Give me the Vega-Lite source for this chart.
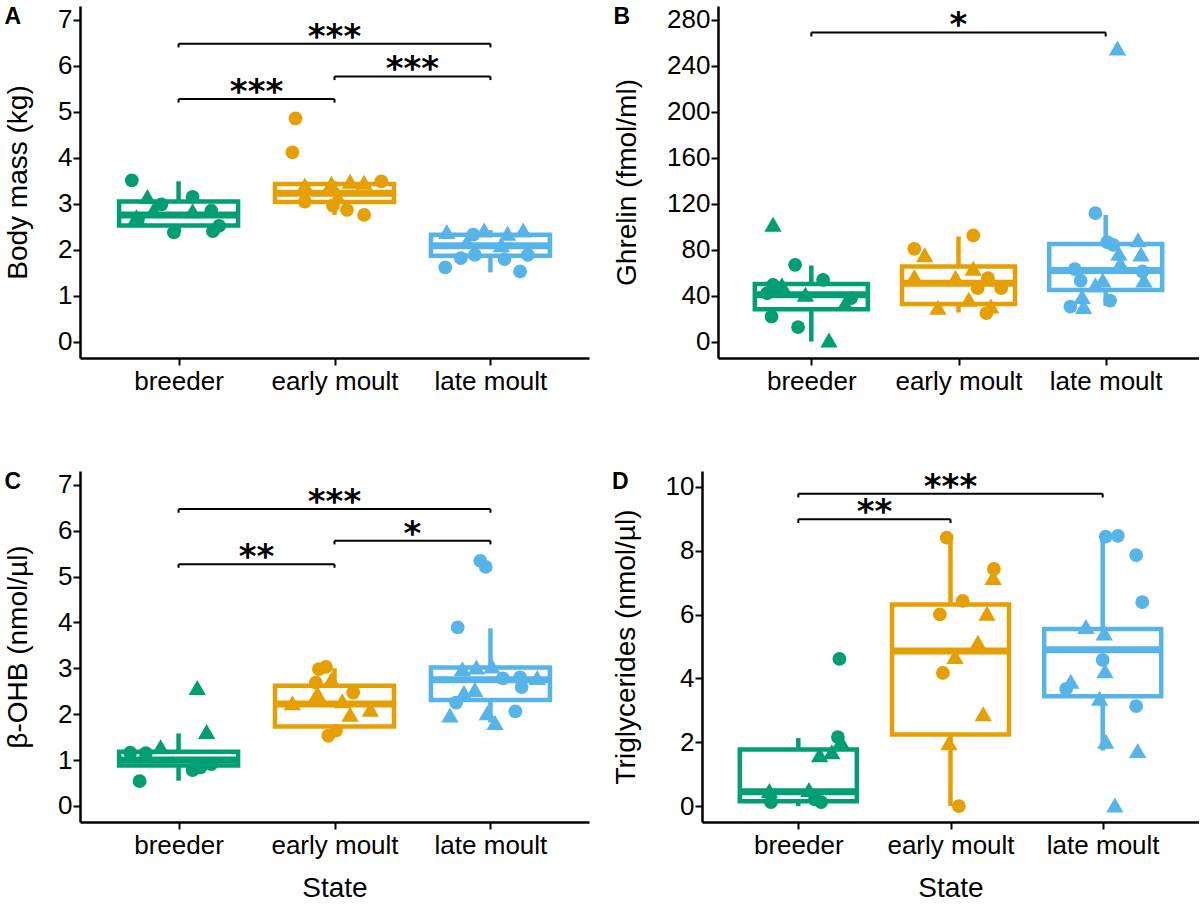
{
  "$schema": "https://vega.github.io/schema/vega-lite/v6.json",
  "background": "white",
  "padding": {"left": 4, "top": 6, "right": 0, "bottom": 0},
  "datasets": {
    "massPts": [
      {"state": "breeder", "sex": "F", "x": 0.70, "value": 3.51},
      {"state": "breeder", "sex": "M", "x": 0.80, "value": 3.16},
      {"state": "breeder", "sex": "F", "x": 0.89, "value": 2.99},
      {"state": "breeder", "sex": "F", "x": 1.09, "value": 3.15},
      {"state": "breeder", "sex": "M", "x": 0.84, "value": 2.87},
      {"state": "breeder", "sex": "F", "x": 0.74, "value": 2.67},
      {"state": "breeder", "sex": "M", "x": 0.73, "value": 2.72},
      {"state": "breeder", "sex": "F", "x": 0.97, "value": 2.38},
      {"state": "breeder", "sex": "M", "x": 1.09, "value": 2.85},
      {"state": "breeder", "sex": "F", "x": 1.21, "value": 2.85},
      {"state": "breeder", "sex": "F", "x": 1.22, "value": 2.41},
      {"state": "breeder", "sex": "F", "x": 1.26, "value": 2.52},
      {"state": "early moult", "sex": "F", "x": 1.75, "value": 4.86},
      {"state": "early moult", "sex": "F", "x": 1.73, "value": 4.12},
      {"state": "early moult", "sex": "M", "x": 1.81, "value": 3.41},
      {"state": "early moult", "sex": "F", "x": 1.81, "value": 3.05},
      {"state": "early moult", "sex": "M", "x": 1.98, "value": 3.45},
      {"state": "early moult", "sex": "M", "x": 2.10, "value": 3.49},
      {"state": "early moult", "sex": "M", "x": 2.19, "value": 3.47},
      {"state": "early moult", "sex": "F", "x": 2.30, "value": 3.49},
      {"state": "early moult", "sex": "F", "x": 1.99, "value": 2.96},
      {"state": "early moult", "sex": "F", "x": 2.08, "value": 2.87},
      {"state": "early moult", "sex": "F", "x": 2.19, "value": 2.76},
      {"state": "early moult", "sex": "M", "x": 2.02, "value": 3.16},
      {"state": "late moult", "sex": "M", "x": 2.72, "value": 2.40},
      {"state": "late moult", "sex": "F", "x": 2.89, "value": 2.33},
      {"state": "late moult", "sex": "M", "x": 2.96, "value": 2.43},
      {"state": "late moult", "sex": "M", "x": 3.11, "value": 2.36},
      {"state": "late moult", "sex": "M", "x": 3.21, "value": 2.43},
      {"state": "late moult", "sex": "M", "x": 2.85, "value": 2.18},
      {"state": "late moult", "sex": "M", "x": 3.07, "value": 2.11},
      {"state": "late moult", "sex": "F", "x": 2.71, "value": 1.62},
      {"state": "late moult", "sex": "F", "x": 2.81, "value": 1.82},
      {"state": "late moult", "sex": "F", "x": 2.90, "value": 1.89},
      {"state": "late moult", "sex": "F", "x": 3.09, "value": 1.80},
      {"state": "late moult", "sex": "F", "x": 3.19, "value": 1.53},
      {"state": "late moult", "sex": "F", "x": 3.24, "value": 1.89}
    ],
    "massBox": [
      {"state": "breeder", "grp": 1, "lo": 2.38, "q1": 2.53, "med": 2.76, "q3": 3.05, "hi": 3.49},
      {"state": "early moult", "grp": 2, "lo": 2.76, "q1": 3.04, "med": 3.23, "q3": 3.43, "hi": 3.49},
      {"state": "late moult", "grp": 3, "lo": 1.51, "q1": 1.87, "med": 2.09, "q3": 2.33, "hi": 2.43}
    ],
    "massSig": [
      {"x1": 1, "x2": 3, "xmid": 2, "y": 6.48, "ytip": 6.40, "label": "***"},
      {"x1": 1, "x2": 2, "xmid": 1.5, "y": 5.28, "ytip": 5.20, "label": "***"},
      {"x1": 2, "x2": 3, "xmid": 2.5, "y": 5.77, "ytip": 5.69, "label": "***"}
    ],
    "ghrPts": [
      {"state": "breeder", "sex": "M", "x": 0.74, "value": 102.3},
      {"state": "breeder", "sex": "F", "x": 0.89, "value": 67},
      {"state": "breeder", "sex": "F", "x": 1.08, "value": 54},
      {"state": "breeder", "sex": "F", "x": 0.74, "value": 49.6},
      {"state": "breeder", "sex": "M", "x": 0.80, "value": 49.6},
      {"state": "breeder", "sex": "F", "x": 0.70, "value": 42.3},
      {"state": "breeder", "sex": "M", "x": 0.96, "value": 41.4},
      {"state": "breeder", "sex": "M", "x": 1.23, "value": 33.6},
      {"state": "breeder", "sex": "F", "x": 1.27, "value": 38},
      {"state": "breeder", "sex": "F", "x": 0.73, "value": 22},
      {"state": "breeder", "sex": "F", "x": 0.91, "value": 12.8},
      {"state": "breeder", "sex": "M", "x": 1.12, "value": 1.7},
      {"state": "early moult", "sex": "F", "x": 1.70, "value": 80.9},
      {"state": "early moult", "sex": "M", "x": 1.77, "value": 75.7},
      {"state": "early moult", "sex": "F", "x": 2.10, "value": 92.5},
      {"state": "early moult", "sex": "M", "x": 2.10, "value": 64},
      {"state": "early moult", "sex": "M", "x": 1.70, "value": 56.8},
      {"state": "early moult", "sex": "M", "x": 1.98, "value": 56.2},
      {"state": "early moult", "sex": "F", "x": 2.20, "value": 55.4},
      {"state": "early moult", "sex": "F", "x": 2.13, "value": 46.7},
      {"state": "early moult", "sex": "F", "x": 2.29, "value": 46.7},
      {"state": "early moult", "sex": "M", "x": 2.07, "value": 37.1},
      {"state": "early moult", "sex": "M", "x": 1.86, "value": 30.1},
      {"state": "early moult", "sex": "M", "x": 2.22, "value": 31.3},
      {"state": "early moult", "sex": "F", "x": 2.19, "value": 25},
      {"state": "late moult", "sex": "M", "x": 3.08, "value": 255.4},
      {"state": "late moult", "sex": "F", "x": 2.93, "value": 111.9},
      {"state": "late moult", "sex": "F", "x": 3.01, "value": 86.7},
      {"state": "late moult", "sex": "F", "x": 3.05, "value": 84.3},
      {"state": "late moult", "sex": "M", "x": 3.22, "value": 88.7},
      {"state": "late moult", "sex": "M", "x": 3.09, "value": 77.1},
      {"state": "late moult", "sex": "M", "x": 3.24, "value": 76.5},
      {"state": "late moult", "sex": "M", "x": 3.10, "value": 68.4},
      {"state": "late moult", "sex": "F", "x": 2.79, "value": 63.2},
      {"state": "late moult", "sex": "F", "x": 3.25, "value": 61.2},
      {"state": "late moult", "sex": "F", "x": 2.83, "value": 53.3},
      {"state": "late moult", "sex": "M", "x": 2.98, "value": 53.9},
      {"state": "late moult", "sex": "M", "x": 2.93, "value": 49.6},
      {"state": "late moult", "sex": "M", "x": 3.26, "value": 53.9},
      {"state": "late moult", "sex": "M", "x": 2.84, "value": 39.4},
      {"state": "late moult", "sex": "F", "x": 2.76, "value": 30.7},
      {"state": "late moult", "sex": "M", "x": 2.85, "value": 30.7},
      {"state": "late moult", "sex": "F", "x": 3.03, "value": 35.9}
    ],
    "ghrBox": [
      {"state": "breeder", "grp": 1, "lo": 0.3, "q1": 28.4, "med": 41, "q3": 50.4, "hi": 66.4},
      {"state": "early moult", "grp": 2, "lo": 25.5, "q1": 33, "med": 51, "q3": 65.5, "hi": 91.6},
      {"state": "late moult", "grp": 3, "lo": 31.3, "q1": 45.2, "med": 62, "q3": 85.2, "hi": 110.4}
    ],
    "ghrSig": [
      {"x1": 1, "x2": 3, "xmid": 2, "y": 269, "ytip": 265.5, "label": "*"}
    ],
    "ohbPts": [
      {"state": "breeder", "sex": "M", "x": 1.12, "value": 2.58},
      {"state": "breeder", "sex": "M", "x": 1.18, "value": 1.62},
      {"state": "breeder", "sex": "M", "x": 0.885, "value": 1.29},
      {"state": "breeder", "sex": "F", "x": 0.69, "value": 1.16},
      {"state": "breeder", "sex": "F", "x": 0.79, "value": 1.15},
      {"state": "breeder", "sex": "F", "x": 1.09, "value": 0.78},
      {"state": "breeder", "sex": "F", "x": 1.14, "value": 0.84},
      {"state": "breeder", "sex": "F", "x": 1.21, "value": 0.91},
      {"state": "breeder", "sex": "F", "x": 0.75, "value": 0.54},
      {"state": "early moult", "sex": "F", "x": 1.90, "value": 2.98},
      {"state": "early moult", "sex": "F", "x": 1.945, "value": 3.03},
      {"state": "early moult", "sex": "M", "x": 1.98, "value": 2.76},
      {"state": "early moult", "sex": "F", "x": 1.88, "value": 2.69},
      {"state": "early moult", "sex": "M", "x": 1.89, "value": 2.45},
      {"state": "early moult", "sex": "F", "x": 2.12, "value": 2.47},
      {"state": "early moult", "sex": "M", "x": 1.73, "value": 2.25},
      {"state": "early moult", "sex": "M", "x": 2.05, "value": 2.29},
      {"state": "early moult", "sex": "M", "x": 2.10, "value": 2.00},
      {"state": "early moult", "sex": "M", "x": 2.23, "value": 2.11},
      {"state": "early moult", "sex": "F", "x": 1.96, "value": 1.53},
      {"state": "early moult", "sex": "F", "x": 2.01, "value": 1.64},
      {"state": "late moult", "sex": "F", "x": 2.935, "value": 5.34},
      {"state": "late moult", "sex": "F", "x": 2.97, "value": 5.21},
      {"state": "late moult", "sex": "F", "x": 2.79, "value": 3.89},
      {"state": "late moult", "sex": "M", "x": 2.82, "value": 2.99},
      {"state": "late moult", "sex": "M", "x": 2.91, "value": 3.03},
      {"state": "late moult", "sex": "M", "x": 3.01, "value": 3.05},
      {"state": "late moult", "sex": "F", "x": 3.08, "value": 2.78},
      {"state": "late moult", "sex": "F", "x": 3.19, "value": 2.80},
      {"state": "late moult", "sex": "M", "x": 3.30, "value": 2.80},
      {"state": "late moult", "sex": "F", "x": 3.20, "value": 2.59},
      {"state": "late moult", "sex": "M", "x": 2.83, "value": 2.47},
      {"state": "late moult", "sex": "M", "x": 2.90, "value": 2.54},
      {"state": "late moult", "sex": "F", "x": 2.78, "value": 2.25},
      {"state": "late moult", "sex": "M", "x": 2.74, "value": 1.98},
      {"state": "late moult", "sex": "M", "x": 2.98, "value": 2.03},
      {"state": "late moult", "sex": "M", "x": 3.03, "value": 1.82},
      {"state": "late moult", "sex": "F", "x": 3.16, "value": 2.06}
    ],
    "ohbBox": [
      {"state": "breeder", "grp": 1, "lo": 0.55, "q1": 0.88, "med": 1.0, "q3": 1.18, "hi": 1.58},
      {"state": "early moult", "grp": 2, "lo": 1.55, "q1": 1.73, "med": 2.22, "q3": 2.62, "hi": 3.0},
      {"state": "late moult", "grp": 3, "lo": 1.82, "q1": 2.31, "med": 2.75, "q3": 3.02, "hi": 3.87}
    ],
    "ohbSig": [
      {"x1": 1, "x2": 3, "xmid": 2, "y": 6.47, "ytip": 6.39, "label": "***"},
      {"x1": 1, "x2": 2, "xmid": 1.5, "y": 5.27, "ytip": 5.19, "label": "**"},
      {"x1": 2, "x2": 3, "xmid": 2.5, "y": 5.78, "ytip": 5.70, "label": "*"}
    ],
    "tgPts": [
      {"state": "breeder", "sex": "F", "x": 1.27, "value": 4.61},
      {"state": "breeder", "sex": "F", "x": 1.26, "value": 2.16},
      {"state": "breeder", "sex": "M", "x": 1.28, "value": 2.03},
      {"state": "breeder", "sex": "M", "x": 1.22, "value": 1.70},
      {"state": "breeder", "sex": "M", "x": 1.14, "value": 1.61},
      {"state": "breeder", "sex": "M", "x": 0.81, "value": 0.49},
      {"state": "breeder", "sex": "M", "x": 1.07, "value": 0.52},
      {"state": "breeder", "sex": "F", "x": 0.82, "value": 0.12},
      {"state": "breeder", "sex": "F", "x": 1.15, "value": 0.12},
      {"state": "breeder", "sex": "F", "x": 1.11, "value": 0.21},
      {"state": "early moult", "sex": "F", "x": 1.975, "value": 8.41},
      {"state": "early moult", "sex": "F", "x": 2.285, "value": 7.43},
      {"state": "early moult", "sex": "M", "x": 2.28, "value": 7.16},
      {"state": "early moult", "sex": "F", "x": 2.08, "value": 6.43},
      {"state": "early moult", "sex": "F", "x": 1.93, "value": 6.01},
      {"state": "early moult", "sex": "M", "x": 2.24, "value": 6.04},
      {"state": "early moult", "sex": "M", "x": 2.18, "value": 5.13},
      {"state": "early moult", "sex": "M", "x": 2.03, "value": 4.69},
      {"state": "early moult", "sex": "F", "x": 1.95, "value": 4.17},
      {"state": "early moult", "sex": "M", "x": 2.215, "value": 2.89},
      {"state": "early moult", "sex": "M", "x": 1.99, "value": 1.98},
      {"state": "early moult", "sex": "F", "x": 2.055, "value": 0.0},
      {"state": "late moult", "sex": "F", "x": 3.02, "value": 8.44},
      {"state": "late moult", "sex": "F", "x": 3.10, "value": 8.47},
      {"state": "late moult", "sex": "F", "x": 3.22, "value": 7.86},
      {"state": "late moult", "sex": "F", "x": 3.26, "value": 6.39},
      {"state": "late moult", "sex": "M", "x": 2.89, "value": 5.63},
      {"state": "late moult", "sex": "M", "x": 3.01, "value": 5.42},
      {"state": "late moult", "sex": "F", "x": 3.00, "value": 4.58},
      {"state": "late moult", "sex": "M", "x": 3.015, "value": 4.24},
      {"state": "late moult", "sex": "M", "x": 2.79, "value": 3.91},
      {"state": "late moult", "sex": "F", "x": 2.76, "value": 3.67},
      {"state": "late moult", "sex": "M", "x": 2.98, "value": 3.38},
      {"state": "late moult", "sex": "F", "x": 3.22, "value": 3.13},
      {"state": "late moult", "sex": "M", "x": 3.02, "value": 2.03},
      {"state": "late moult", "sex": "M", "x": 3.23, "value": 1.74},
      {"state": "late moult", "sex": "M", "x": 3.08, "value": 0.03}
    ],
    "tgBox": [
      {"state": "breeder", "grp": 1, "lo": 0.0, "q1": 0.15, "med": 0.45, "q3": 1.77, "hi": 2.13},
      {"state": "early moult", "grp": 2, "lo": 0.0, "q1": 2.24, "med": 4.86, "q3": 6.32, "hi": 8.39},
      {"state": "late moult", "grp": 3, "lo": 1.74, "q1": 3.44, "med": 4.90, "q3": 5.55, "hi": 8.44}
    ],
    "tgSig": [
      {"x1": 1, "x2": 3, "xmid": 2, "y": 9.79, "ytip": 9.67, "label": "***"},
      {"x1": 1, "x2": 2, "xmid": 1.5, "y": 8.99, "ytip": 8.87, "label": "**"}
    ]
  },
  "spacing": 76,
  "vconcat": [
    {
      "spacing": 129,
      "bounds": "flush",
      "hconcat": [
        {
          "width": 509,
          "height": 352,
          "title": {"text": "A", "anchor": "start", "frame": "bounds", "offset": -23},
          "layer": [
            {
              "data": {"name": "massBox"},
              "mark": {"type": "rule", "strokeWidth": 4.5},
              "encoding": {
                "x": {"field": "grp", "type": "quantitative", "scale": {"domain": [0.4, 3.6], "nice": false, "zero": false}, "axis": {"values": [1, 2, 3], "labelExpr": "datum.value == 1 ? 'breeder' : datum.value == 2 ? 'early moult' : 'late moult'", "title": null}},
                "y": {"field": "lo", "type": "quantitative", "scale": {"domain": [-0.35, 7.3], "nice": false, "zero": false}, "axis": {"values": [0, 1, 2, 3, 4, 5, 6, 7], "title": "Body mass (kg)"}},
                "y2": {"field": "hi"},
                "color": {"field": "state", "type": "nominal", "scale": {"domain": ["breeder", "early moult", "late moult"], "range": ["#009E73", "#E69F00", "#56B4E9"]}, "legend": null}
              }
            },
            {
              "data": {"name": "massBox"},
              "mark": {"type": "bar", "width": 119, "fill": "white", "strokeWidth": 4.5},
              "encoding": {
                "x": {"field": "grp", "type": "quantitative", "scale": {"domain": [0.4, 3.6], "nice": false, "zero": false}, "axis": {"values": [1, 2, 3], "labelExpr": "datum.value == 1 ? 'breeder' : datum.value == 2 ? 'early moult' : 'late moult'", "title": null}},
                "y": {"field": "q1", "type": "quantitative", "scale": {"domain": [-0.35, 7.3], "nice": false, "zero": false}, "axis": {"values": [0, 1, 2, 3, 4, 5, 6, 7], "title": "Body mass (kg)"}},
                "y2": {"field": "q3"},
                "stroke": {"field": "state", "type": "nominal", "scale": {"domain": ["breeder", "early moult", "late moult"], "range": ["#009E73", "#E69F00", "#56B4E9"]}, "legend": null}
              }
            },
            {
              "data": {"name": "massBox"},
              "mark": {"type": "tick", "orient": "horizontal", "size": 119, "thickness": 7, "opacity": 1},
              "encoding": {
                "x": {"field": "grp", "type": "quantitative", "scale": {"domain": [0.4, 3.6], "nice": false, "zero": false}, "axis": {"values": [1, 2, 3], "labelExpr": "datum.value == 1 ? 'breeder' : datum.value == 2 ? 'early moult' : 'late moult'", "title": null}},
                "y": {"field": "med", "type": "quantitative", "scale": {"domain": [-0.35, 7.3], "nice": false, "zero": false}, "axis": {"values": [0, 1, 2, 3, 4, 5, 6, 7], "title": "Body mass (kg)"}},
                "color": {"field": "state", "type": "nominal", "scale": {"domain": ["breeder", "early moult", "late moult"], "range": ["#009E73", "#E69F00", "#56B4E9"]}, "legend": null}
              }
            },
            {
              "data": {"name": "massPts"},
              "mark": {"type": "point", "filled": true, "opacity": 1},
              "encoding": {
                "x": {"field": "x", "type": "quantitative", "scale": {"domain": [0.4, 3.6], "nice": false, "zero": false}, "axis": {"values": [1, 2, 3], "labelExpr": "datum.value == 1 ? 'breeder' : datum.value == 2 ? 'early moult' : 'late moult'", "title": null}},
                "y": {"field": "value", "type": "quantitative", "scale": {"domain": [-0.35, 7.3], "nice": false, "zero": false}, "axis": {"values": [0, 1, 2, 3, 4, 5, 6, 7], "title": "Body mass (kg)"}},
                "color": {"field": "state", "type": "nominal", "scale": {"domain": ["breeder", "early moult", "late moult"], "range": ["#009E73", "#E69F00", "#56B4E9"]}, "legend": null},
                "shape": {"field": "sex", "type": "nominal", "scale": {"domain": ["F", "M"], "range": ["circle", "triangle-up"]}, "legend": null},
                "size": {"field": "sex", "type": "nominal", "scale": {"domain": ["F", "M"], "range": [190, 300]}, "legend": null}
              }
            },
            {
              "data": {"name": "massSig"},
              "mark": {"type": "rule", "strokeWidth": 2, "color": "black"},
              "encoding": {
                "x": {"field": "x1", "type": "quantitative", "scale": {"domain": [0.4, 3.6], "nice": false, "zero": false}, "axis": {"values": [1, 2, 3], "labelExpr": "datum.value == 1 ? 'breeder' : datum.value == 2 ? 'early moult' : 'late moult'", "title": null}},
                "x2": {"field": "x2"},
                "y": {"field": "y", "type": "quantitative", "scale": {"domain": [-0.35, 7.3], "nice": false, "zero": false}, "axis": {"values": [0, 1, 2, 3, 4, 5, 6, 7], "title": "Body mass (kg)"}}
              }
            },
            {
              "data": {"name": "massSig"},
              "transform": [{"fold": ["x1", "x2"], "as": ["end", "xe"]}],
              "mark": {"type": "rule", "strokeWidth": 2, "color": "black"},
              "encoding": {
                "x": {"field": "xe", "type": "quantitative", "scale": {"domain": [0.4, 3.6], "nice": false, "zero": false}, "axis": {"values": [1, 2, 3], "labelExpr": "datum.value == 1 ? 'breeder' : datum.value == 2 ? 'early moult' : 'late moult'", "title": null}},
                "y": {"field": "y", "type": "quantitative", "scale": {"domain": [-0.35, 7.3], "nice": false, "zero": false}, "axis": {"values": [0, 1, 2, 3, 4, 5, 6, 7], "title": "Body mass (kg)"}},
                "y2": {"field": "ytip"}
              }
            },
            {
              "data": {"name": "massSig"},
              "mark": {"type": "text", "font": "DejaVu Sans", "fontWeight": "bold", "fontSize": 34, "baseline": "alphabetic", "dy": 4, "color": "black"},
              "encoding": {
                "x": {"field": "xmid", "type": "quantitative", "scale": {"domain": [0.4, 3.6], "nice": false, "zero": false}, "axis": {"values": [1, 2, 3], "labelExpr": "datum.value == 1 ? 'breeder' : datum.value == 2 ? 'early moult' : 'late moult'", "title": null}},
                "y": {"field": "y", "type": "quantitative", "scale": {"domain": [-0.35, 7.3], "nice": false, "zero": false}, "axis": {"values": [0, 1, 2, 3, 4, 5, 6, 7], "title": "Body mass (kg)"}},
                "text": {"field": "label"}
              }
            }
          ]
        },
        {
          "width": 481,
          "height": 352,
          "title": {"text": "B", "anchor": "start", "frame": "bounds", "offset": -23},
          "layer": [
            {
              "data": {"name": "ghrBox"},
              "mark": {"type": "rule", "strokeWidth": 4.5},
              "encoding": {
                "x": {"field": "grp", "type": "quantitative", "scale": {"domain": [0.4, 3.6], "nice": false, "zero": false}, "axis": {"values": [1, 2, 3], "labelExpr": "datum.value == 1 ? 'breeder' : datum.value == 2 ? 'early moult' : 'late moult'", "title": null}},
                "y": {"field": "lo", "type": "quantitative", "scale": {"domain": [-14, 292], "nice": false, "zero": false}, "axis": {"values": [0, 40, 80, 120, 160, 200, 240, 280], "title": "Ghrelin (fmol/ml)"}},
                "y2": {"field": "hi"},
                "color": {"field": "state", "type": "nominal", "scale": {"domain": ["breeder", "early moult", "late moult"], "range": ["#009E73", "#E69F00", "#56B4E9"]}, "legend": null}
              }
            },
            {
              "data": {"name": "ghrBox"},
              "mark": {"type": "bar", "width": 113, "fill": "white", "strokeWidth": 4.5},
              "encoding": {
                "x": {"field": "grp", "type": "quantitative", "scale": {"domain": [0.4, 3.6], "nice": false, "zero": false}, "axis": {"values": [1, 2, 3], "labelExpr": "datum.value == 1 ? 'breeder' : datum.value == 2 ? 'early moult' : 'late moult'", "title": null}},
                "y": {"field": "q1", "type": "quantitative", "scale": {"domain": [-14, 292], "nice": false, "zero": false}, "axis": {"values": [0, 40, 80, 120, 160, 200, 240, 280], "title": "Ghrelin (fmol/ml)"}},
                "y2": {"field": "q3"},
                "stroke": {"field": "state", "type": "nominal", "scale": {"domain": ["breeder", "early moult", "late moult"], "range": ["#009E73", "#E69F00", "#56B4E9"]}, "legend": null}
              }
            },
            {
              "data": {"name": "ghrBox"},
              "mark": {"type": "tick", "orient": "horizontal", "size": 113, "thickness": 7, "opacity": 1},
              "encoding": {
                "x": {"field": "grp", "type": "quantitative", "scale": {"domain": [0.4, 3.6], "nice": false, "zero": false}, "axis": {"values": [1, 2, 3], "labelExpr": "datum.value == 1 ? 'breeder' : datum.value == 2 ? 'early moult' : 'late moult'", "title": null}},
                "y": {"field": "med", "type": "quantitative", "scale": {"domain": [-14, 292], "nice": false, "zero": false}, "axis": {"values": [0, 40, 80, 120, 160, 200, 240, 280], "title": "Ghrelin (fmol/ml)"}},
                "color": {"field": "state", "type": "nominal", "scale": {"domain": ["breeder", "early moult", "late moult"], "range": ["#009E73", "#E69F00", "#56B4E9"]}, "legend": null}
              }
            },
            {
              "data": {"name": "ghrPts"},
              "mark": {"type": "point", "filled": true, "opacity": 1},
              "encoding": {
                "x": {"field": "x", "type": "quantitative", "scale": {"domain": [0.4, 3.6], "nice": false, "zero": false}, "axis": {"values": [1, 2, 3], "labelExpr": "datum.value == 1 ? 'breeder' : datum.value == 2 ? 'early moult' : 'late moult'", "title": null}},
                "y": {"field": "value", "type": "quantitative", "scale": {"domain": [-14, 292], "nice": false, "zero": false}, "axis": {"values": [0, 40, 80, 120, 160, 200, 240, 280], "title": "Ghrelin (fmol/ml)"}},
                "color": {"field": "state", "type": "nominal", "scale": {"domain": ["breeder", "early moult", "late moult"], "range": ["#009E73", "#E69F00", "#56B4E9"]}, "legend": null},
                "shape": {"field": "sex", "type": "nominal", "scale": {"domain": ["F", "M"], "range": ["circle", "triangle-up"]}, "legend": null},
                "size": {"field": "sex", "type": "nominal", "scale": {"domain": ["F", "M"], "range": [190, 300]}, "legend": null}
              }
            },
            {
              "data": {"name": "ghrSig"},
              "mark": {"type": "rule", "strokeWidth": 2, "color": "black"},
              "encoding": {
                "x": {"field": "x1", "type": "quantitative", "scale": {"domain": [0.4, 3.6], "nice": false, "zero": false}, "axis": {"values": [1, 2, 3], "labelExpr": "datum.value == 1 ? 'breeder' : datum.value == 2 ? 'early moult' : 'late moult'", "title": null}},
                "x2": {"field": "x2"},
                "y": {"field": "y", "type": "quantitative", "scale": {"domain": [-14, 292], "nice": false, "zero": false}, "axis": {"values": [0, 40, 80, 120, 160, 200, 240, 280], "title": "Ghrelin (fmol/ml)"}}
              }
            },
            {
              "data": {"name": "ghrSig"},
              "transform": [{"fold": ["x1", "x2"], "as": ["end", "xe"]}],
              "mark": {"type": "rule", "strokeWidth": 2, "color": "black"},
              "encoding": {
                "x": {"field": "xe", "type": "quantitative", "scale": {"domain": [0.4, 3.6], "nice": false, "zero": false}, "axis": {"values": [1, 2, 3], "labelExpr": "datum.value == 1 ? 'breeder' : datum.value == 2 ? 'early moult' : 'late moult'", "title": null}},
                "y": {"field": "y", "type": "quantitative", "scale": {"domain": [-14, 292], "nice": false, "zero": false}, "axis": {"values": [0, 40, 80, 120, 160, 200, 240, 280], "title": "Ghrelin (fmol/ml)"}},
                "y2": {"field": "ytip"}
              }
            },
            {
              "data": {"name": "ghrSig"},
              "mark": {"type": "text", "font": "DejaVu Sans", "fontWeight": "bold", "fontSize": 34, "baseline": "alphabetic", "dy": 4, "color": "black"},
              "encoding": {
                "x": {"field": "xmid", "type": "quantitative", "scale": {"domain": [0.4, 3.6], "nice": false, "zero": false}, "axis": {"values": [1, 2, 3], "labelExpr": "datum.value == 1 ? 'breeder' : datum.value == 2 ? 'early moult' : 'late moult'", "title": null}},
                "y": {"field": "y", "type": "quantitative", "scale": {"domain": [-14, 292], "nice": false, "zero": false}, "axis": {"values": [0, 40, 80, 120, 160, 200, 240, 280], "title": "Ghrelin (fmol/ml)"}},
                "text": {"field": "label"}
              }
            }
          ]
        }
      ]
    },
    {
      "spacing": 113,
      "bounds": "flush",
      "hconcat": [
        {
          "width": 509,
          "height": 351,
          "title": {"text": "C", "anchor": "start", "frame": "bounds", "offset": -23},
          "layer": [
            {
              "data": {"name": "ohbBox"},
              "mark": {"type": "rule", "strokeWidth": 4.5},
              "encoding": {
                "x": {"field": "grp", "type": "quantitative", "scale": {"domain": [0.4, 3.6], "nice": false, "zero": false}, "axis": {"values": [1, 2, 3], "labelExpr": "datum.value == 1 ? 'breeder' : datum.value == 2 ? 'early moult' : 'late moult'", "title": "State"}},
                "y": {"field": "lo", "type": "quantitative", "scale": {"domain": [-0.35, 7.3], "nice": false, "zero": false}, "axis": {"values": [0, 1, 2, 3, 4, 5, 6, 7], "title": "β-OHB (nmol/µl)"}},
                "y2": {"field": "hi"},
                "color": {"field": "state", "type": "nominal", "scale": {"domain": ["breeder", "early moult", "late moult"], "range": ["#009E73", "#E69F00", "#56B4E9"]}, "legend": null}
              }
            },
            {
              "data": {"name": "ohbBox"},
              "mark": {"type": "bar", "width": 119, "fill": "white", "strokeWidth": 4.5},
              "encoding": {
                "x": {"field": "grp", "type": "quantitative", "scale": {"domain": [0.4, 3.6], "nice": false, "zero": false}, "axis": {"values": [1, 2, 3], "labelExpr": "datum.value == 1 ? 'breeder' : datum.value == 2 ? 'early moult' : 'late moult'", "title": "State"}},
                "y": {"field": "q1", "type": "quantitative", "scale": {"domain": [-0.35, 7.3], "nice": false, "zero": false}, "axis": {"values": [0, 1, 2, 3, 4, 5, 6, 7], "title": "β-OHB (nmol/µl)"}},
                "y2": {"field": "q3"},
                "stroke": {"field": "state", "type": "nominal", "scale": {"domain": ["breeder", "early moult", "late moult"], "range": ["#009E73", "#E69F00", "#56B4E9"]}, "legend": null}
              }
            },
            {
              "data": {"name": "ohbBox"},
              "mark": {"type": "tick", "orient": "horizontal", "size": 119, "thickness": 7, "opacity": 1},
              "encoding": {
                "x": {"field": "grp", "type": "quantitative", "scale": {"domain": [0.4, 3.6], "nice": false, "zero": false}, "axis": {"values": [1, 2, 3], "labelExpr": "datum.value == 1 ? 'breeder' : datum.value == 2 ? 'early moult' : 'late moult'", "title": "State"}},
                "y": {"field": "med", "type": "quantitative", "scale": {"domain": [-0.35, 7.3], "nice": false, "zero": false}, "axis": {"values": [0, 1, 2, 3, 4, 5, 6, 7], "title": "β-OHB (nmol/µl)"}},
                "color": {"field": "state", "type": "nominal", "scale": {"domain": ["breeder", "early moult", "late moult"], "range": ["#009E73", "#E69F00", "#56B4E9"]}, "legend": null}
              }
            },
            {
              "data": {"name": "ohbPts"},
              "mark": {"type": "point", "filled": true, "opacity": 1},
              "encoding": {
                "x": {"field": "x", "type": "quantitative", "scale": {"domain": [0.4, 3.6], "nice": false, "zero": false}, "axis": {"values": [1, 2, 3], "labelExpr": "datum.value == 1 ? 'breeder' : datum.value == 2 ? 'early moult' : 'late moult'", "title": "State"}},
                "y": {"field": "value", "type": "quantitative", "scale": {"domain": [-0.35, 7.3], "nice": false, "zero": false}, "axis": {"values": [0, 1, 2, 3, 4, 5, 6, 7], "title": "β-OHB (nmol/µl)"}},
                "color": {"field": "state", "type": "nominal", "scale": {"domain": ["breeder", "early moult", "late moult"], "range": ["#009E73", "#E69F00", "#56B4E9"]}, "legend": null},
                "shape": {"field": "sex", "type": "nominal", "scale": {"domain": ["F", "M"], "range": ["circle", "triangle-up"]}, "legend": null},
                "size": {"field": "sex", "type": "nominal", "scale": {"domain": ["F", "M"], "range": [190, 300]}, "legend": null}
              }
            },
            {
              "data": {"name": "ohbSig"},
              "mark": {"type": "rule", "strokeWidth": 2, "color": "black"},
              "encoding": {
                "x": {"field": "x1", "type": "quantitative", "scale": {"domain": [0.4, 3.6], "nice": false, "zero": false}, "axis": {"values": [1, 2, 3], "labelExpr": "datum.value == 1 ? 'breeder' : datum.value == 2 ? 'early moult' : 'late moult'", "title": "State"}},
                "x2": {"field": "x2"},
                "y": {"field": "y", "type": "quantitative", "scale": {"domain": [-0.35, 7.3], "nice": false, "zero": false}, "axis": {"values": [0, 1, 2, 3, 4, 5, 6, 7], "title": "β-OHB (nmol/µl)"}}
              }
            },
            {
              "data": {"name": "ohbSig"},
              "transform": [{"fold": ["x1", "x2"], "as": ["end", "xe"]}],
              "mark": {"type": "rule", "strokeWidth": 2, "color": "black"},
              "encoding": {
                "x": {"field": "xe", "type": "quantitative", "scale": {"domain": [0.4, 3.6], "nice": false, "zero": false}, "axis": {"values": [1, 2, 3], "labelExpr": "datum.value == 1 ? 'breeder' : datum.value == 2 ? 'early moult' : 'late moult'", "title": "State"}},
                "y": {"field": "y", "type": "quantitative", "scale": {"domain": [-0.35, 7.3], "nice": false, "zero": false}, "axis": {"values": [0, 1, 2, 3, 4, 5, 6, 7], "title": "β-OHB (nmol/µl)"}},
                "y2": {"field": "ytip"}
              }
            },
            {
              "data": {"name": "ohbSig"},
              "mark": {"type": "text", "font": "DejaVu Sans", "fontWeight": "bold", "fontSize": 34, "baseline": "alphabetic", "dy": 4, "color": "black"},
              "encoding": {
                "x": {"field": "xmid", "type": "quantitative", "scale": {"domain": [0.4, 3.6], "nice": false, "zero": false}, "axis": {"values": [1, 2, 3], "labelExpr": "datum.value == 1 ? 'breeder' : datum.value == 2 ? 'early moult' : 'late moult'", "title": "State"}},
                "y": {"field": "y", "type": "quantitative", "scale": {"domain": [-0.35, 7.3], "nice": false, "zero": false}, "axis": {"values": [0, 1, 2, 3, 4, 5, 6, 7], "title": "β-OHB (nmol/µl)"}},
                "text": {"field": "label"}
              }
            }
          ]
        },
        {
          "width": 497,
          "height": 351,
          "title": {"text": "D", "anchor": "start", "frame": "bounds", "offset": -23},
          "layer": [
            {
              "data": {"name": "tgBox"},
              "mark": {"type": "rule", "strokeWidth": 4.5},
              "encoding": {
                "x": {"field": "grp", "type": "quantitative", "scale": {"domain": [0.4, 3.6], "nice": false, "zero": false}, "axis": {"values": [1, 2, 3], "labelExpr": "datum.value == 1 ? 'breeder' : datum.value == 2 ? 'early moult' : 'late moult'", "title": "State"}},
                "y": {"field": "lo", "type": "quantitative", "scale": {"domain": [-0.5, 10.5], "nice": false, "zero": false}, "axis": {"values": [0, 2, 4, 6, 8, 10], "title": "Triglycerides (nmol/µl)"}},
                "y2": {"field": "hi"},
                "color": {"field": "state", "type": "nominal", "scale": {"domain": ["breeder", "early moult", "late moult"], "range": ["#009E73", "#E69F00", "#56B4E9"]}, "legend": null}
              }
            },
            {
              "data": {"name": "tgBox"},
              "mark": {"type": "bar", "width": 117, "fill": "white", "strokeWidth": 4.5},
              "encoding": {
                "x": {"field": "grp", "type": "quantitative", "scale": {"domain": [0.4, 3.6], "nice": false, "zero": false}, "axis": {"values": [1, 2, 3], "labelExpr": "datum.value == 1 ? 'breeder' : datum.value == 2 ? 'early moult' : 'late moult'", "title": "State"}},
                "y": {"field": "q1", "type": "quantitative", "scale": {"domain": [-0.5, 10.5], "nice": false, "zero": false}, "axis": {"values": [0, 2, 4, 6, 8, 10], "title": "Triglycerides (nmol/µl)"}},
                "y2": {"field": "q3"},
                "stroke": {"field": "state", "type": "nominal", "scale": {"domain": ["breeder", "early moult", "late moult"], "range": ["#009E73", "#E69F00", "#56B4E9"]}, "legend": null}
              }
            },
            {
              "data": {"name": "tgBox"},
              "mark": {"type": "tick", "orient": "horizontal", "size": 117, "thickness": 7, "opacity": 1},
              "encoding": {
                "x": {"field": "grp", "type": "quantitative", "scale": {"domain": [0.4, 3.6], "nice": false, "zero": false}, "axis": {"values": [1, 2, 3], "labelExpr": "datum.value == 1 ? 'breeder' : datum.value == 2 ? 'early moult' : 'late moult'", "title": "State"}},
                "y": {"field": "med", "type": "quantitative", "scale": {"domain": [-0.5, 10.5], "nice": false, "zero": false}, "axis": {"values": [0, 2, 4, 6, 8, 10], "title": "Triglycerides (nmol/µl)"}},
                "color": {"field": "state", "type": "nominal", "scale": {"domain": ["breeder", "early moult", "late moult"], "range": ["#009E73", "#E69F00", "#56B4E9"]}, "legend": null}
              }
            },
            {
              "data": {"name": "tgPts"},
              "mark": {"type": "point", "filled": true, "opacity": 1},
              "encoding": {
                "x": {"field": "x", "type": "quantitative", "scale": {"domain": [0.4, 3.6], "nice": false, "zero": false}, "axis": {"values": [1, 2, 3], "labelExpr": "datum.value == 1 ? 'breeder' : datum.value == 2 ? 'early moult' : 'late moult'", "title": "State"}},
                "y": {"field": "value", "type": "quantitative", "scale": {"domain": [-0.5, 10.5], "nice": false, "zero": false}, "axis": {"values": [0, 2, 4, 6, 8, 10], "title": "Triglycerides (nmol/µl)"}},
                "color": {"field": "state", "type": "nominal", "scale": {"domain": ["breeder", "early moult", "late moult"], "range": ["#009E73", "#E69F00", "#56B4E9"]}, "legend": null},
                "shape": {"field": "sex", "type": "nominal", "scale": {"domain": ["F", "M"], "range": ["circle", "triangle-up"]}, "legend": null},
                "size": {"field": "sex", "type": "nominal", "scale": {"domain": ["F", "M"], "range": [190, 300]}, "legend": null}
              }
            },
            {
              "data": {"name": "tgSig"},
              "mark": {"type": "rule", "strokeWidth": 2, "color": "black"},
              "encoding": {
                "x": {"field": "x1", "type": "quantitative", "scale": {"domain": [0.4, 3.6], "nice": false, "zero": false}, "axis": {"values": [1, 2, 3], "labelExpr": "datum.value == 1 ? 'breeder' : datum.value == 2 ? 'early moult' : 'late moult'", "title": "State"}},
                "x2": {"field": "x2"},
                "y": {"field": "y", "type": "quantitative", "scale": {"domain": [-0.5, 10.5], "nice": false, "zero": false}, "axis": {"values": [0, 2, 4, 6, 8, 10], "title": "Triglycerides (nmol/µl)"}}
              }
            },
            {
              "data": {"name": "tgSig"},
              "transform": [{"fold": ["x1", "x2"], "as": ["end", "xe"]}],
              "mark": {"type": "rule", "strokeWidth": 2, "color": "black"},
              "encoding": {
                "x": {"field": "xe", "type": "quantitative", "scale": {"domain": [0.4, 3.6], "nice": false, "zero": false}, "axis": {"values": [1, 2, 3], "labelExpr": "datum.value == 1 ? 'breeder' : datum.value == 2 ? 'early moult' : 'late moult'", "title": "State"}},
                "y": {"field": "y", "type": "quantitative", "scale": {"domain": [-0.5, 10.5], "nice": false, "zero": false}, "axis": {"values": [0, 2, 4, 6, 8, 10], "title": "Triglycerides (nmol/µl)"}},
                "y2": {"field": "ytip"}
              }
            },
            {
              "data": {"name": "tgSig"},
              "mark": {"type": "text", "font": "DejaVu Sans", "fontWeight": "bold", "fontSize": 34, "baseline": "alphabetic", "dy": 4, "color": "black"},
              "encoding": {
                "x": {"field": "xmid", "type": "quantitative", "scale": {"domain": [0.4, 3.6], "nice": false, "zero": false}, "axis": {"values": [1, 2, 3], "labelExpr": "datum.value == 1 ? 'breeder' : datum.value == 2 ? 'early moult' : 'late moult'", "title": "State"}},
                "y": {"field": "y", "type": "quantitative", "scale": {"domain": [-0.5, 10.5], "nice": false, "zero": false}, "axis": {"values": [0, 2, 4, 6, 8, 10], "title": "Triglycerides (nmol/µl)"}},
                "text": {"field": "label"}
              }
            }
          ]
        }
      ]
    }
  ],
  "config": {
    "font": "Liberation Sans",
    "view": {"stroke": null},
    "axis": {
      "grid": false,
      "domainColor": "black",
      "domainWidth": 2.5,
      "tickColor": "black",
      "tickWidth": 2,
      "tickSize": 7,
      "labelColor": "black",
      "labelFont": "Liberation Sans",
      "labelFontSize": 26,
      "labelFlush": false,
      "labelOverlap": false,
      "titleColor": "black",
      "titleFont": "Liberation Sans",
      "titleFontSize": 28,
      "titleFontWeight": "normal"
    },
    "axisY": {"titlePadding": 25, "labelPadding": 1},
    "axisX": {"titlePadding": 16, "labelPadding": 3},
    "title": {"font": "Liberation Sans", "fontSize": 23, "fontWeight": "bold", "color": "black"}
  }
}
